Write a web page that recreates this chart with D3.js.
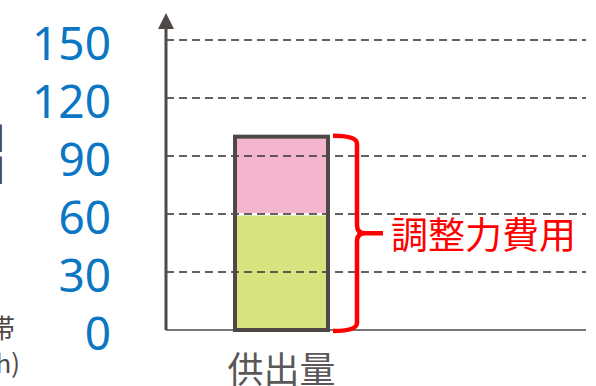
<!DOCTYPE html>
<html>
<head>
<meta charset="utf-8">
<script src="https://cdn.jsdelivr.net/npm/d3@7"></script>
<style>
  html, body { margin: 0; padding: 0; background: #fff; }
  svg { display: block; }
</style>
</head>
<body>
<svg id="chart" width="596" height="386"></svg>
<script>
// ---- data ----
const categories = ["供出量"];
const seriesNames = ["基礎", "上乗せ"];
const baseValues = [60];
const extraValues = [40];
const tickValues = [0, 30, 60, 90, 120, 150];
const tickLabels = ["0", "30", "60", "90", "120", "150"];
const braceLabel = "調整力費用";

(function () {
// ---- layout ----
const axisX = 166, plotRight = 586;
const svg = d3.select("#chart");

const y = d3.scaleLinear().domain([0, 150]).range([330, 40]);
const x = d3.scaleBand().domain(categories).range([235, 328]).padding(0);

const cjk = "'Noto Sans CJK JP', 'Noto Sans', sans-serif";
const grey = "#4f4847";

// cut-off fragments of the wider figure's left title
svg.append("text").attr("x", 6).attr("y", 150).attr("text-anchor", "end")
  .attr("font-family", cjk).attr("font-size", 34).attr("fill", grey).text("口");
svg.append("text").attr("x", 6).attr("y", 182).attr("text-anchor", "end")
  .attr("font-family", cjk).attr("font-size", 34).attr("fill", grey).text("口");
svg.append("text").attr("x", 15).attr("y", 338).attr("text-anchor", "end")
  .attr("font-family", cjk).attr("font-size", 26).attr("fill", grey).text("時間帯");
svg.append("text").attr("x", 20).attr("y", 373).attr("text-anchor", "end")
  .attr("font-family", cjk).attr("font-size", 26).attr("fill", grey).text("(円/kWh)");

// tick labels (blue)
svg.append("g").selectAll("text").data(tickValues).join("text")
  .attr("x", 111)
  .attr("y", d => y(d) + 2)
  .attr("text-anchor", "end")
  .attr("dominant-baseline", "central")
  .attr("font-family", "'Noto Sans', sans-serif")
  .attr("font-size", 46)
  .attr("fill", "#0b76c4")
  .text((d, i) => tickLabels[i]);

// bar fills
const bx = x(categories[0]), bw = x.bandwidth();
const stackData = categories.map((c, i) => ({ c, base: baseValues[i], extra: extraValues[i] }));
const gBars = svg.append("g");
gBars.selectAll("rect.base").data(stackData).join("rect")
  .attr("x", d => x(d.c)).attr("width", bw)
  .attr("y", d => y(d.base) + 1.5).attr("height", d => y(0) - y(d.base) - 1.5)
  .attr("fill", "#d6e37f");
gBars.selectAll("rect.extra").data(stackData).join("rect")
  .attr("x", d => x(d.c)).attr("width", bw)
  .attr("y", d => y(d.base + d.extra)).attr("height", d => y(d.base) - y(d.base + d.extra) - 1)
  .attr("fill", "#f4b6cf");

// gridlines
svg.append("g").selectAll("line").data(tickValues.filter(v => v > 0)).join("line")
  .attr("x1", axisX).attr("x2", plotRight)
  .attr("y1", d => y(d)).attr("y2", d => y(d))
  .attr("stroke", "#3e3a39").attr("stroke-opacity", 0.8)
  .attr("stroke-width", 2).attr("stroke-dasharray", "8,5");

// baseline
svg.append("line").attr("x1", axisX).attr("x2", plotRight)
  .attr("y1", y(0)).attr("y2", y(0))
  .attr("stroke", "#777").attr("stroke-width", 2);

// bar outline
svg.append("g").selectAll("rect").data(stackData).join("rect")
  .attr("x", d => x(d.c)).attr("width", bw)
  .attr("y", d => y(d.base + d.extra)).attr("height", d => y(0) - y(d.base + d.extra))
  .attr("fill", "none").attr("stroke", grey).attr("stroke-width", 4);

// y axis line with arrow
svg.append("line").attr("x1", axisX).attr("x2", axisX)
  .attr("y1", y(0)).attr("y2", 26)
  .attr("stroke", grey).attr("stroke-width", 3);
svg.append("path").attr("d", `M${axisX - 8},29 L${axisX},13 L${axisX + 8},29 Z`).attr("fill", grey);

// category label
svg.append("g").selectAll("text").data(categories).join("text")
  .attr("x", d => x(d) + bw / 2).attr("y", 383)
  .attr("text-anchor", "middle")
  .attr("font-family", cjk).attr("font-size", 36).attr("fill", "#595757")
  .text(d => d);

// brace
const bTop = y(baseValues[0] + extraValues[0]) - 1, bBot = y(0) + 1, mid = (bTop + bBot) / 2;
const x0 = bx + bw + 5, xb = 357, tip = 383, r = 8;
const bracePath = `M${x0},${bTop} Q${xb},${bTop} ${xb},${bTop + r} L${xb},${mid - r} Q${xb},${mid} ${xb + r},${mid} L${tip},${mid}` +
  ` M${xb + r},${mid} Q${xb},${mid} ${xb},${mid + r} L${xb},${bBot - r} Q${xb},${bBot} ${x0},${bBot}`;
svg.append("path").attr("d", bracePath).attr("fill", "none")
  .attr("stroke", "#ff0000").attr("stroke-width", 4.5).attr("stroke-linecap", "butt");

svg.append("text").attr("x", 391).attr("y", mid + 16)
  .attr("font-family", cjk).attr("font-size", 37).attr("fill", "#ff0000")
  .text(braceLabel);
})();
</script>
</body>
</html>
